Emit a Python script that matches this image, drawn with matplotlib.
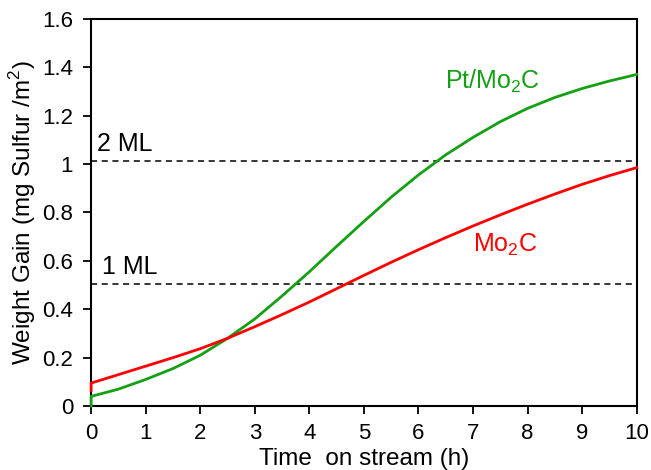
import matplotlib
matplotlib.use('Agg')
import matplotlib.pyplot as plt

plt.rcParams['font.family'] = ['Liberation Sans', 'DejaVu Sans']
plt.rcParams['mathtext.fontset'] = 'custom'
plt.rcParams['mathtext.rm'] = 'Liberation Sans'

# weight gain curves (h, mg S / m2)
time_h = [0, 0, 0.5, 1, 1.5, 2, 2.5, 3, 3.5, 4, 4.5, 5, 5.5, 6, 6.5, 7, 7.5, 8, 8.5, 9, 9.5, 10]
pt_mo2c = [0, 0.04, 0.07, 0.11, 0.155, 0.21, 0.28, 0.36, 0.455, 0.555, 0.66, 0.763, 0.863, 0.955,
           1.038, 1.11, 1.175, 1.23, 1.275, 1.312, 1.343, 1.37]
mo2c = [0.065, 0.095, 0.13, 0.165, 0.20, 0.237, 0.28, 0.328, 0.378, 0.43, 0.485, 0.54, 0.594, 0.646,
        0.696, 0.744, 0.79, 0.834, 0.876, 0.916, 0.952, 0.985]

# monolayer coverage levels
ml_levels = [0.505, 1.013]
ml_labels = ['1 ML', '2 ML']

fig = plt.figure(figsize=(6.51, 4.70), dpi=100)
ax = fig.add_axes([0.14, 0.136, 0.838, 0.824])

for lvl, lab, xl in zip(ml_levels, ml_labels, [0.2, 0.1]):
    ax.axhline(lvl, color='black', lw=1.1, ls=(0, (4, 3)))
    ax.text(xl, lvl + 0.02, lab, fontsize=18, va='bottom', ha='left')

ax.plot(time_h, pt_mo2c, color='#14a014', lw=2, clip_on=False, zorder=3)
ax.plot(time_h, mo2c, color='#ff0000', lw=2, clip_on=False, zorder=3)

ax.text(6.48, 1.34, r'Pt/Mo$_2$C', color='#14a014', fontsize=18, va='center', ha='left')
ax.text(7.0, 0.665, r'Mo$_2$C', color='#ff0000', fontsize=18, va='center', ha='left')

ax.set_xlim(0, 10)
ax.set_ylim(0, 1.6)
ax.set_xticks(range(0, 11))
ax.set_yticks([0, 0.2, 0.4, 0.6, 0.8, 1, 1.2, 1.4, 1.6])
ax.set_yticklabels(['0', '0.2', '0.4', '0.6', '0.8', '1', '1.2', '1.4', '1.6'])
ax.tick_params(direction='out', length=6, width=1.3, labelsize=16, top=False, right=False)
ax.tick_params(axis='x', pad=6)
ax.tick_params(axis='y', pad=7)
for s in ax.spines.values():
    s.set_linewidth(1.5)

ax.set_xlabel('Time  on stream (h)', fontsize=17.5, labelpad=3)
ax.set_ylabel(r'Weight Gain (mg Sulfur /m$^2$)', fontsize=17.5, labelpad=3)

fig.savefig('out.png', dpi=100)
